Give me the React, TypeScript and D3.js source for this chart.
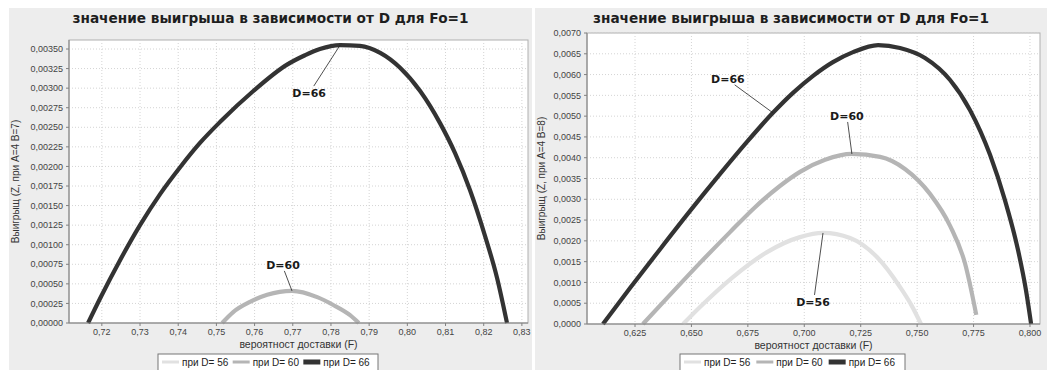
import React from 'react';
import * as d3 from 'd3';

type Pt = [number, number];

// values: [F, Z]
const leftD60: Pt[] = [
  [0.7515, 0], [0.7544, 0.00014], [0.7588, 0.00027], [0.7633, 0.00036],
  [0.7698, 0.00041], [0.7764, 0.00033], [0.7806, 0.00023], [0.785, 0.0001], [0.7873, 0],
];
const leftD66: Pt[] = [
  [0.7164, 0], [0.7196, 0.000319], [0.7248, 0.000805], [0.73, 0.00125], [0.7353, 0.00165],
  [0.7405, 0.00199], [0.7457, 0.0023], [0.751, 0.00257], [0.7596, 0.00296], [0.7685, 0.0033],
  [0.7732, 0.00342], [0.7771, 0.0035], [0.7824, 0.00355], [0.7876, 0.00354], [0.7929, 0.00345],
  [0.7981, 0.00326], [0.8034, 0.00296], [0.8086, 0.00255], [0.8125, 0.00217], [0.8164, 0.0017],
  [0.8203, 0.00112], [0.8235, 0.000575], [0.8261, 0],
];
const rightD56: Pt[] = [
  [0.6463, 0], [0.6538, 0.00041], [0.6684, 0.00113], [0.6835, 0.00173], [0.6981, 0.00209],
  [0.7083, 0.00219], [0.7203, 0.00207], [0.7322, 0.00161], [0.7424, 0.00089], [0.7477, 0.00043],
  [0.7517, 0],
];
const rightD60: Pt[] = [
  [0.6285, 0], [0.6405, 0.0007], [0.6538, 0.00147], [0.6671, 0.00221], [0.6782, 0.00281],
  [0.6892, 0.00332], [0.6981, 0.00366], [0.7092, 0.00395], [0.7211, 0.00409], [0.7336, 0.00402],
  [0.7446, 0.00373], [0.7557, 0.00313], [0.7646, 0.00236], [0.7712, 0.00146], [0.7762, 0.00022],
];
const rightD66: Pt[] = [
  [0.6108, 0], [0.6228, 0.000866], [0.6361, 0.0018], [0.6494, 0.00272], [0.6627, 0.00361],
  [0.6746, 0.00438], [0.6861, 0.00508], [0.695, 0.00556], [0.7039, 0.00597], [0.7127, 0.0063],
  [0.7216, 0.00654], [0.7327, 0.00671], [0.7424, 0.00664], [0.7535, 0.0064], [0.7646, 0.00587],
  [0.7734, 0.00515], [0.7823, 0.00407], [0.7889, 0.00298], [0.7947, 0.00178], [0.7982, 0.00082],
  [0.8005, 0],
];

const leftXTicks = [0.72, 0.73, 0.74, 0.75, 0.76, 0.77, 0.78, 0.79, 0.8, 0.81, 0.82, 0.83];
const leftYTicks = [0, 0.00025, 0.0005, 0.00075, 0.001, 0.00125, 0.0015, 0.00175, 0.002,
  0.00225, 0.0025, 0.00275, 0.003, 0.00325, 0.0035];
const rightXTicks = [0.625, 0.65, 0.675, 0.7, 0.725, 0.75, 0.775, 0.8];
const rightYTicks = [0, 0.0005, 0.001, 0.0015, 0.002, 0.0025, 0.003, 0.0035, 0.004, 0.0045,
  0.005, 0.0055, 0.006, 0.0065, 0.007];

const seriesNames = ['при D= 56', 'при D= 60', 'при D= 66'];
const seriesColors = ['#e1e1e1', '#b5b5b5', '#333333'];

const title = 'значение выигрыша в зависимости от D для Fo=1';
const xTitle = 'вероятност доставки (F)';

const comma = (f: (n: number) => string) => (v: number) => f(v).replace('.', ',');

type Note = { text: string; at: Pt; dx: number; dy: number };

type PanelProps = {
  x0: number; x1: number;
  plot: { left: number; top: number; right: number; bottom: number };
  xDomain: [number, number]; yDomain: [number, number];
  xTicks: number[]; yTicks: number[];
  xFmt: (v: number) => string; yFmt: (v: number) => string;
  series: (Pt[] | null)[];
  yTitle: string;
  notes: Note[];
  legendX: number; legendW: number;
};

function Panel(p: PanelProps) {
  const { plot } = p;
  const x = d3.scaleLinear().domain(p.xDomain).range([plot.left, plot.right]);
  const y = d3.scaleLinear().domain(p.yDomain).range([plot.bottom, plot.top]);
  const line = d3.line<Pt>().x(d => x(d[0])).y(d => y(d[1])).curve(d3.curveMonotoneX);
  const cx = (p.x0 + p.x1) / 2;
  const itemW = (p.legendW - 8) / 3;

  return (
    <g>
      <rect x={p.x0} y={8} width={p.x1 - p.x0} height={362} fill="#ededed" />
      <text x={cx} y={23} textAnchor="middle" fontFamily="DejaVu Sans" fontWeight="bold"
        fontSize={14} fill="#1e1e1e" textLength={396} lengthAdjust="spacingAndGlyphs">{title}</text>

      <rect x={plot.left} y={plot.top} width={plot.right - plot.left} height={plot.bottom - plot.top}
        fill="#ffffff" stroke="#b0b0b0" />
      {p.yTicks.map(t => (
        <line key={'gy' + t} x1={plot.left} x2={plot.right} y1={y(t)} y2={y(t)}
          stroke="#d4d4d4" strokeDasharray="1,2" />
      ))}
      {p.xTicks.map(t => (
        <line key={'gx' + t} x1={x(t)} x2={x(t)} y1={plot.top} y2={plot.bottom}
          stroke="#d4d4d4" strokeDasharray="1,2" />
      ))}

      {p.series.map((s, i) => s && (
        <path key={i} d={line(s) || ''} fill="none" stroke={seriesColors[i]} strokeWidth={4.2}
          strokeLinejoin="round" />
      ))}

      {p.notes.map(n => {
        const ax = x(n.at[0]);
        const ay = y(n.at[1]);
        const lx = ax + n.dx;
        const ly = ay + n.dy;
        const ey = n.dy < 0 ? ly + 6 : ly - 7;
        const ex = lx + (ax - lx) * 0.15;
        return (
          <g key={n.text}>
            <line x1={ax} y1={ay} x2={ex} y2={ey} stroke="#222" strokeWidth={0.8} />
            <text x={lx} y={ly} dy="0.35em" textAnchor="middle" fontFamily="DejaVu Sans"
              fontWeight="bold" fontSize={11} fill="#1a1a1a">{n.text}</text>
          </g>
        );
      })}

      <line x1={plot.left} x2={plot.left} y1={plot.top} y2={plot.bottom} stroke="#808080" />
      <line x1={plot.left} x2={plot.right} y1={plot.bottom} y2={plot.bottom} stroke="#808080" />
      {p.yTicks.map(t => (
        <g key={'ty' + t}>
          <line x1={plot.left - 3} x2={plot.left} y1={y(t)} y2={y(t)} stroke="#808080" />
          <text x={plot.left - 6} y={y(t)} dy="0.35em" textAnchor="end" fontFamily="Liberation Sans"
            fontSize={9} fill="#444">{p.yFmt(t)}</text>
        </g>
      ))}
      {p.xTicks.map(t => (
        <g key={'tx' + t}>
          <line x1={x(t)} x2={x(t)} y1={plot.bottom} y2={plot.bottom + 3} stroke="#808080" />
          <text x={x(t)} y={plot.bottom + 12} textAnchor="middle" fontFamily="Liberation Sans"
            fontSize={9} fill="#444">{p.xFmt(t)}</text>
        </g>
      ))}

      <text x={(plot.left + plot.right) / 2} y={plot.bottom + 25} textAnchor="middle"
        fontFamily="Liberation Sans" fontSize={10.5} fill="#333">{xTitle}</text>
      <text transform={`translate(${p.x0 + 10},${(plot.top + plot.bottom) / 2}) rotate(-90)`}
        textAnchor="middle" fontFamily="Liberation Sans" fontSize={10} fill="#333">{p.yTitle}</text>

      <rect x={p.legendX} y={354} width={p.legendW} height={20} fill="#ffffff" stroke="#777" />
      {seriesNames.map((name, i) => {
        const lx = p.legendX + 4 + i * itemW;
        return (
          <g key={name}>
            <line x1={lx} x2={lx + 17} y1={362} y2={362} stroke={seriesColors[i]}
              strokeWidth={i === 2 ? 5 : 3} />
            <text x={lx + 20} y={362} dy="0.35em" fontFamily="Liberation Sans" fontSize={10}
              fill="#222">{name}</text>
          </g>
        );
      })}
    </g>
  );
}

export default function App() {
  const leftNotes: Note[] = [
    { text: 'D=66', at: leftD66[12], dx: -31, dy: 48 },
    { text: 'D=60', at: leftD60[4], dx: -9, dy: -26 },
  ];
  const rightNotes: Note[] = [
    { text: 'D=66', at: rightD66[6], dx: -45, dy: -34 },
    { text: 'D=60', at: rightD60[8], dx: -5, dy: -38 },
    { text: 'D=56', at: rightD56[5], dx: -10, dy: 69 },
  ];
  return (
    <svg width={1047} height={370} style={{ position: 'absolute', left: 0, top: 0, background: '#fff' }}>
      <Panel x0={9} x1={532} plot={{ left: 69, top: 40, right: 528, bottom: 323 }}
        xDomain={[0.7114, 0.8316]} yDomain={[0, 0.003615]}
        xTicks={leftXTicks} yTicks={leftYTicks}
        xFmt={comma(d3.format('.2f'))} yFmt={comma(d3.format('.5f'))}
        series={[null, leftD60, leftD66]} yTitle="Выигрыщ (Z, при A=4 B=7)"
        notes={leftNotes} legendX={158} legendW={220} />
      <Panel x0={535} x1={1047} plot={{ left: 587, top: 33, right: 1040, bottom: 324 }}
        xDomain={[0.60373, 0.80444]} yDomain={[0, 0.007]}
        xTicks={rightXTicks} yTicks={rightYTicks}
        xFmt={comma(d3.format('.3f'))} yFmt={comma(d3.format('.4f'))}
        series={[rightD56, rightD60, rightD66]} yTitle="Выигрыщ (Z, при A=4 B=8)"
        notes={rightNotes} legendX={680} legendW={225} />
    </svg>
  );
}
